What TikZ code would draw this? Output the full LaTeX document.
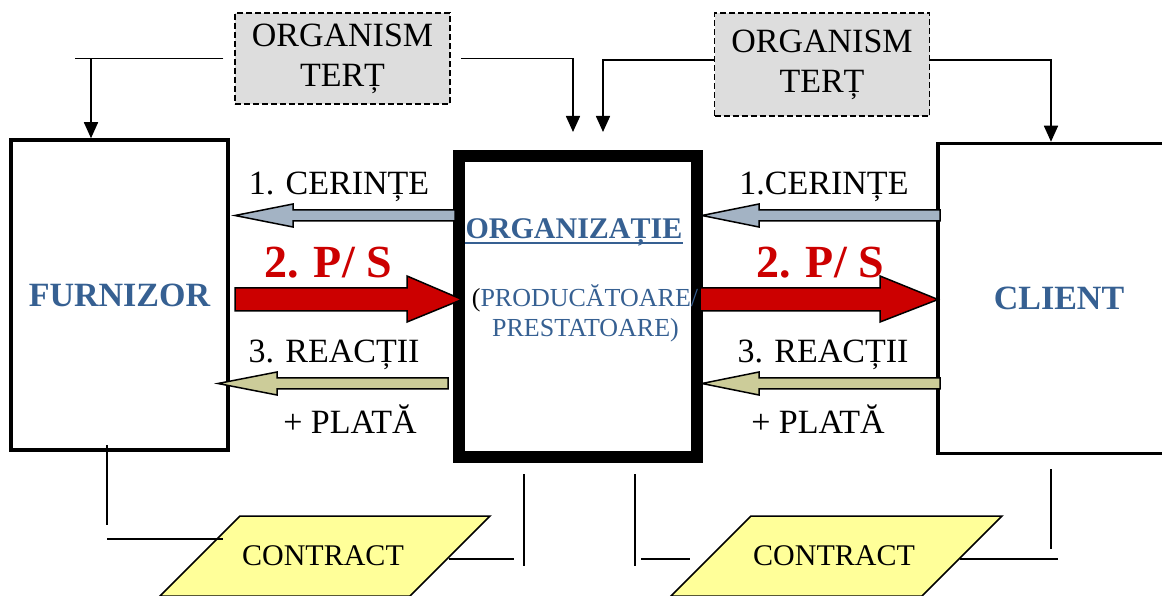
\documentclass[tikz,border=0pt]{standalone}
\usepackage{fontspec}
\setmainfont{Liberation Serif}
\usetikzlibrary{arrows.meta,positioning,calc}
\definecolor{orgblue}{RGB}{54,96,146}
\definecolor{otgray}{RGB}{221,221,221}
\definecolor{cergray}{RGB}{163,179,196}
\definecolor{psred}{RGB}{204,0,0}
\definecolor{reackhaki}{RGB}{204,204,153}
\definecolor{contryellow}{RGB}{255,255,153}

\begin{document}
\begin{tikzpicture}[x=1pt, y=1pt,
    ent/.style={draw, line width=3.5pt, minimum width=#1, minimum height=310pt,
                inner sep=0pt, text=orgblue, font=\fontsize{34}{40}\selectfont\bfseries},
    tert/.style={draw, dash pattern=on 6pt off 3pt, line width=1.5pt, fill=otgray,
                 minimum width=215pt, minimum height=#1, align=center,
                 font=\fontsize{34}{40}\selectfont},
    conn/.style={line width=1.6pt},
    arr/.style={conn, -{Triangle[length=16pt,width=14pt]}},
    blk/.style={draw, line width=1.5pt, fill=#1},
    lbl/.style={anchor=base, inner sep=0pt, font=\fontsize{34}{40}\selectfont},
    ps/.style={anchor=base, inner sep=0pt, text=psred, font=\fontsize{46}{50}\selectfont\bfseries},
    contr/.style={draw, line width=1.5pt, fill=contryellow}
  ]
  \useasboundingbox (0,0) rectangle (1162,595);
  \clip (0,0) rectangle (1162,595);

  %% ---- third parties ----
  \node[tert=91pt]  (ot1) at (342.5,536.5) {ORGANISM\\TERȚ};
  \node[tert=103pt] (ot2) at (822,530.5)   {ORGANISM\\TERȚ};

  %% ---- main boxes ----
  \node[ent=217pt] (furn)   at (119.5,300) {FURNIZOR};
  \node[draw, line width=12pt, minimum width=238pt, minimum height=301pt] (org) at (578,288.5) {};
  \node[ent=242pt] (client) at (1059,296.5) {CLIENT};

  %% ---- top connectors ----
  \coordinate (lend)  at (75,536.5);
  \coordinate (drop1) at (91,536.5);
  \draw[conn] ([xshift=-11pt]ot1.west) -- (lend);
  \draw[arr]  (drop1) -- (drop1 |- furn.north);
  \draw[arr]  ([xshift=10pt]ot1.east) -| ($(org.north)+(-5,18)$);
  \draw[arr]  ([yshift=4.5pt]ot2.west) -| ($(org.north)+(25,18)$);
  \draw[arr]  ([yshift=4.5pt]ot2.east) -| ([xshift=-8pt]client.north);

  %% ---- organisation text ----
  \node[anchor=base, inner sep=0pt, text=orgblue, font=\fontsize{30}{34}\selectfont\bfseries]
    (orgname) at (574,356) {ORGANIZAȚIE};
  \draw[orgblue, line width=2pt] ([yshift=-4pt]orgname.base west) -- ([yshift=-4pt]orgname.base east);
  \node[anchor=base, inner sep=0pt, text=orgblue, font=\fontsize{26}{30}\selectfont]
    (prod1) at (585,288) {{\color{black}(}PRODUCĂTOARE/};
  \node[anchor=base, inner sep=0pt, text=orgblue, font=\fontsize{26}{30}\selectfont]
    (prod2) at (585.5,258) {PRESTATOARE)};

  %% ---- block arrows, left ----
  \draw[blk=cergray]   (455,385) -- (293,385) -- (293,391) -- (235,379.5) -- (293,368) -- (293,374) -- (455,374) -- cycle;
  \draw[blk=psred]     (235,307) -- (407,307) -- (407,319) -- (462,295.5) -- (407,273) -- (407,284) -- (235,284) -- cycle;
  \draw[blk=reackhaki] (448,217) -- (277,217) -- (277,223) -- (218,211.5) -- (277,200) -- (277,206) -- (448,206) -- cycle;

  %% ---- block arrows, right ----
  \draw[blk=cergray]   (940,385) -- (759,385) -- (759,391) -- (702,379.5) -- (759,368) -- (759,374) -- (940,374) -- cycle;
  \draw[blk=psred]     (700,307) -- (880,307) -- (880,319) -- (938,295.5) -- (880,273) -- (880,284) -- (700,284) -- cycle;
  \draw[blk=reackhaki] (940,217) -- (759,217) -- (759,223) -- (702,211.5) -- (759,200) -- (759,206) -- (940,206) -- cycle;

  %% ---- labels ----
  \node[lbl] (cer1)  at (339,400) {1. CERINȚE};
  \node[ps]  (ps1)   at (328,317) {2. P/ S};
  \node[lbl] (reac1) at (334,233) {3. REACȚII};
  \node[lbl] (pay1)  at (350,162) {+ PLATĂ};
  \node[lbl] (cer2)  at (824,400) {1.CERINȚE};
  \node[ps]  (ps2)   at (820,317) {2. P/ S};
  \node[lbl] (reac2) at (823,233) {3. REACȚII};
  \node[lbl] (pay2)  at (818,162) {+ PLATĂ};

  %% ---- contracts ----
  \draw[contr] (240,79) -- (490,79) -- (410,-1) -- (160,-1) -- cycle;
  \draw[contr] (751,79) -- (1002,79) -- (922,-1) -- (671,-1) -- cycle;
  \node[font=\fontsize{30}{34}\selectfont] (c1) at (323,39) {CONTRACT};
  \node[font=\fontsize{30}{34}\selectfont] (c2) at (834,39) {CONTRACT};

  %% ---- bottom connectors ----
  \coordinate (fdown) at (107,70);
  \coordinate (h1a) at (107,56);  \coordinate (h1b) at (223,56);
  \coordinate (h2a) at (449,36);  \coordinate (h2b) at (514,36);
  \coordinate (h3a) at (641,36);  \coordinate (h3b) at (690,36);
  \coordinate (h4a) at (960,36);  \coordinate (h4b) at (1058,36);
  \draw[conn] ([xshift=-12.5pt,yshift=7pt]furn.south) -- (fdown);
  \draw[conn] (h1a) -- (h1b);
  \draw[conn] (h2a) -- (h2b);
  \draw[conn] ($(org.south)+(-54,-11)$) -- ++(0,-92);
  \draw[conn] ($(org.south)+(57,-11)$) -- ++(0,-92);
  \draw[conn] (h3a) -- (h3b);
  \draw[conn] (h4a) -- (h4b);
  \draw[conn] ($(client.south)+(-8,-14)$) -- ++(0,-80);

\end{tikzpicture}
\end{document}
